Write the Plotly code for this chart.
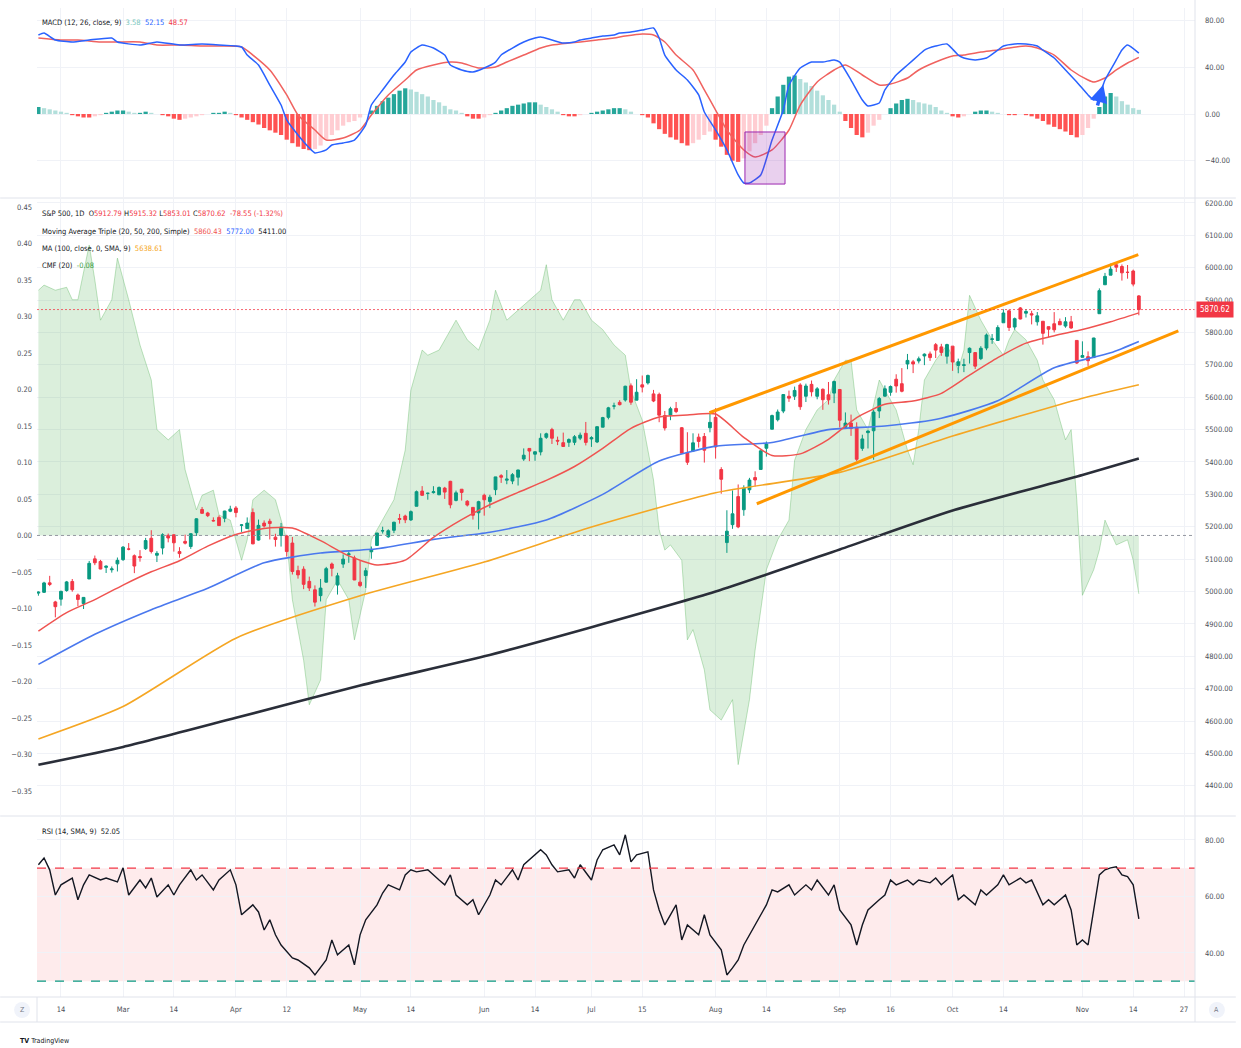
import plotly.graph_objects as go

# ---------------- DATA ----------------
open_ = [
    4995.2, 4997.6, 5026.8, 4967.9, 4976.4, 5003.1, 5031.1, 4989.3, 4963.0, 5038.8, 5100.9, 5093.0, 5074.6, 5067.2, 5085.4,
    5098.5, 5131.0, 5110.5, 5108.0, 5132.4, 5164.5, 5112.0, 5134.3, 5173.5, 5175.1, 5123.3, 5154.8, 5139.1, 5181.7, 5253.4, 5242.5, 5219.5, 5228.9, 5226.3, 5248.0,
    5258.0, 5204.3, 5194.4, 5244.1, 5158.9, 5211.4, 5217.0, 5167.9, 5172.9, 5171.5, 5149.7, 5064.6, 5069.0, 5031.5, 5005.4, 4987.3, 5028.9, 5084.9, 5019.9, 5084.7, 5114.1, 5103.8,
    5029.0, 5049.3, 5122.8, 5142.4, 5187.2, 5169.0, 5189.0, 5225.5, 5233.1, 5221.1, 5263.3, 5310.1, 5303.1, 5305.4, 5298.7, 5319.3, 5340.3, 5281.4, 5315.9, 5278.7, 5259.8, 5243.2,
    5297.2, 5278.2, 5314.5, 5357.8, 5343.8, 5341.2, 5353.0, 5409.1, 5441.9, 5424.1, 5431.1, 5476.2, 5500.0, 5466.8, 5459.6, 5460.7, 5460.7, 5473.6, 5488.5,
    5471.1, 5461.8, 5507.4, 5537.9, 5572.8, 5584.2, 5591.3, 5635.2, 5590.8, 5638.2, 5644.1, 5610.2, 5608.6, 5543.4, 5544.8, 5565.3, 5505.8, 5428.7, 5433.7, 5476.6, 5478.7, 5505.6,
    5537.8, 5376.6, 5151.1, 5206.4, 5293.1, 5252.6, 5314.1, 5351.9, 5377.0, 5442.4, 5501.1, 5530.5, 5557.2, 5602.9, 5603.1, 5637.8, 5603.0, 5639.7, 5602.9, 5624.5, 5607.3, 5612.7,
    5623.9, 5506.7, 5520.1, 5507.3, 5442.1, 5490.5, 5496.4, 5557.5, 5603.3, 5615.2, 5655.5, 5641.7, 5702.6, 5709.2, 5711.9, 5727.4, 5733.7, 5762.2, 5755.4, 5726.5,
    5757.7, 5698.2, 5698.2, 5737.8, 5737.8, 5719.1, 5751.8, 5778.4, 5775.1, 5829.8, 5866.7, 5816.6, 5875.6, 5859.4, 5857.8, 5832.7, 5834.5, 5817.8, 5826.8, 5833.9, 5819.7, 5832.7, 5775.3,
    5723.2, 5725.2, 5722.4, 5857.8, 5947.2, 5976.8, 6008.9, 6003.6, 5985.8, 5989.6, 5912.79,
]
high = [
    5000.3, 5030.1, 5048.4, 4971.3, 5002.5, 5032.7, 5038.7, 4993.7, 4983.2, 5094.4, 5111.1, 5097.7, 5080.7, 5077.4, 5105.0,
    5140.3, 5149.7, 5114.5, 5127.9, 5165.6, 5189.3, 5124.7, 5179.9, 5179.1, 5176.9, 5136.9, 5175.6, 5180.3, 5226.2, 5261.1, 5246.1, 5229.1, 5235.2, 5249.3, 5264.9,
    5263.9, 5208.3, 5228.8, 5256.6, 5222.2, 5219.6, 5224.8, 5178.4, 5211.8, 5175.0, 5168.4, 5079.8, 5078.0, 5046.0, 5019.0, 5038.8, 5076.1, 5089.5, 5057.8, 5114.6, 5123.5, 5110.8,
    5096.1, 5073.2, 5139.1, 5181.0, 5200.2, 5192.0, 5215.3, 5239.7, 5237.3, 5250.4, 5311.8, 5325.5, 5305.4, 5325.3, 5324.3, 5323.2, 5341.9, 5311.7, 5315.9, 5282.3, 5260.2, 5280.3,
    5302.1, 5298.8, 5354.2, 5362.4, 5375.1, 5365.8, 5376.0, 5441.9, 5441.9, 5432.4, 5488.5, 5490.4, 5505.5, 5478.3, 5490.7, 5472.9, 5483.1, 5490.8, 5523.6,
    5479.6, 5509.7, 5539.3, 5570.3, 5583.1, 5590.8, 5635.4, 5642.5, 5655.6, 5666.9, 5669.7, 5622.5, 5614.1, 5557.5, 5570.4, 5585.3, 5508.0, 5491.9, 5488.5, 5487.7, 5489.5, 5551.5,
    5566.2, 5383.9, 5250.9, 5312.3, 5330.6, 5328.0, 5351.0, 5371.2, 5436.5, 5463.2, 5546.2, 5562.0, 5608.3, 5620.5, 5632.7, 5643.2, 5641.8, 5651.6, 5631.2, 5627.0, 5647.0, 5651.4,
    5623.9, 5553.0, 5546.3, 5522.5, 5484.2, 5497.9, 5560.4, 5600.7, 5636.3, 5636.3, 5670.8, 5689.8, 5733.6, 5715.1, 5725.4, 5735.3, 5741.0, 5767.4, 5764.8, 5765.1,
    5757.7, 5719.1, 5718.8, 5753.7, 5739.3, 5757.6, 5796.8, 5795.0, 5822.1, 5871.4, 5870.4, 5846.0, 5878.5, 5872.2, 5866.9, 5863.0, 5834.9, 5817.8, 5862.8, 5842.9, 5847.2, 5850.9, 5775.3,
    5772.5, 5741.4, 5783.4, 5936.1, 5983.8, 6012.5, 6017.3, 6009.9, 6008.2, 5993.9, 5915.32,
]
low = [
    4987.1, 4995.5, 5016.7, 4920.3, 4956.4, 4999.4, 4999.5, 4955.0, 4946.0, 5038.8, 5081.5, 5068.9, 5057.3, 5058.4, 5061.9,
    5094.5, 5127.2, 5056.8, 5092.2, 5128.2, 5117.5, 5091.1, 5114.5, 5151.9, 5123.3, 5104.4, 5145.5, 5131.6, 5171.6, 5240.7, 5229.9, 5216.1, 5203.4, 5213.9, 5245.0,
    5229.2, 5184.1, 5194.4, 5146.1, 5157.2, 5197.4, 5160.8, 5138.7, 5138.8, 5107.9, 5052.5, 5039.8, 5007.3, 5001.6, 4953.6, 4969.4, 5028.0, 5047.0, 4990.6, 5073.1, 5088.7, 5035.3,
    5013.5, 5011.1, 5101.2, 5142.4, 5179.0, 5165.9, 5180.4, 5209.7, 5211.2, 5218.0, 5263.3, 5296.2, 5283.6, 5302.4, 5297.9, 5286.0, 5257.0, 5278.4, 5280.9, 5262.7, 5222.1, 5191.7,
    5234.3, 5257.6, 5297.6, 5335.4, 5331.3, 5331.5, 5327.3, 5403.4, 5402.5, 5403.8, 5420.4, 5471.3, 5455.6, 5452.0, 5446.6, 5446.6, 5451.9, 5467.5, 5451.1,
    5446.5, 5458.4, 5507.4, 5531.6, 5562.5, 5574.6, 5586.4, 5576.5, 5590.4, 5614.8, 5639.0, 5584.8, 5522.8, 5497.0, 5529.0, 5550.9, 5426.6, 5390.9, 5430.7, 5444.4, 5398.2, 5491.6,
    5410.4, 5302.0, 5119.3, 5193.6, 5195.5, 5233.9, 5303.9, 5324.4, 5377.0, 5416.6, 5501.1, 5525.2, 5550.7, 5585.5, 5591.6, 5561.0, 5585.2, 5602.3, 5593.5, 5561.0, 5577.2, 5581.8,
    5506.5, 5503.7, 5480.6, 5402.6, 5434.5, 5441.7, 5407.0, 5535.5, 5601.7, 5604.5, 5614.1, 5615.1, 5686.4, 5674.5, 5704.2, 5699.0, 5712.1, 5721.0, 5727.7, 5703.5,
    5681.3, 5674.0, 5677.4, 5703.9, 5686.9, 5714.6, 5745.0, 5764.8, 5775.1, 5829.8, 5804.5, 5808.3, 5840.3, 5846.1, 5824.8, 5821.2, 5762.4, 5784.9, 5800.0, 5823.1, 5814.5, 5811.3, 5702.9,
    5723.2, 5696.5, 5722.1, 5857.8, 5947.2, 5976.8, 5986.7, 5960.1, 5965.9, 5942.3, 5853.01,
]
close = [
    4997.9, 5026.6, 5021.8, 4953.2, 5000.6, 5029.7, 5005.6, 4975.5, 4981.8, 5087.0, 5088.8, 5069.5, 5078.2, 5069.8, 5096.3,
    5137.1, 5131.0, 5078.7, 5104.8, 5157.4, 5123.7, 5117.9, 5175.3, 5165.3, 5150.5, 5117.1, 5149.4, 5178.5, 5224.6, 5241.5, 5234.2, 5218.2, 5203.6, 5248.5, 5254.4,
    5243.8, 5205.8, 5211.5, 5147.2, 5204.3, 5202.4, 5209.9, 5160.6, 5199.1, 5123.4, 5061.8, 5051.4, 5022.2, 5011.1, 4967.2, 5010.6, 5070.6, 5071.6, 5048.4, 5100.0, 5116.2, 5035.7,
    5018.4, 5064.2, 5127.8, 5180.7, 5187.7, 5187.7, 5214.1, 5222.7, 5221.4, 5246.7, 5308.2, 5297.1, 5303.3, 5308.1, 5321.4, 5307.0, 5267.8, 5304.7, 5306.0, 5267.0, 5235.5, 5277.5,
    5283.4, 5291.3, 5354.0, 5353.0, 5347.0, 5360.8, 5375.3, 5421.0, 5433.7, 5431.6, 5473.2, 5487.0, 5473.2, 5464.6, 5447.9, 5469.3, 5477.9, 5482.9, 5460.5,
    5475.1, 5509.0, 5537.0, 5567.2, 5572.9, 5577.0, 5633.9, 5584.5, 5615.4, 5631.2, 5667.2, 5588.3, 5544.6, 5505.0, 5564.4, 5555.7, 5427.1, 5399.2, 5459.1, 5463.5, 5436.4, 5522.3,
    5446.7, 5346.6, 5186.3, 5240.0, 5199.5, 5319.3, 5344.2, 5344.4, 5434.4, 5455.2, 5543.2, 5554.3, 5608.3, 5597.1, 5620.9, 5570.6, 5634.6, 5616.8, 5625.8, 5592.2, 5592.0, 5648.4,
    5528.9, 5520.1, 5503.4, 5408.4, 5471.1, 5495.5, 5554.1, 5595.8, 5626.0, 5633.1, 5634.6, 5618.3, 5713.6, 5702.6, 5718.6, 5732.9, 5722.3, 5745.4, 5738.2, 5762.5,
    5708.8, 5709.5, 5699.9, 5751.1, 5695.9, 5751.1, 5792.0, 5780.1, 5815.0, 5859.9, 5815.3, 5842.5, 5841.5, 5864.7, 5854.0, 5851.2, 5797.4, 5809.9, 5808.1, 5823.5, 5832.9, 5813.7, 5705.5,
    5728.8, 5712.7, 5782.8, 5929.0, 5973.1, 5995.5, 6001.4, 5984.0, 5985.4, 5949.2, 5870.62,
]
prev_close = 5949.17

# x-axis tick labels (bar index of each label)
tick_idx = [4, 15, 24, 35, 44, 57, 66, 79, 88, 98, 107, 120, 129, 142, 151, 162, 171, 185, 194, 203]
tick_text = ["14", "Mar", "14", "Apr", "12", "May", "14", "Jun", "14", "Jul", "15",
             "Aug", "14", "Sep", "16", "Oct", "14", "Nov", "14", "27"]

# moving averages (read at sample bars)
ma20_idx = list(range(0, 196, 5))
ma20 = [4878, 4935, 4975, 5020, 5061, 5095, 5140, 5176, 5195, 5196, 5157, 5110, 5082, 5097, 5167, 5222,
        5268, 5306, 5343, 5386, 5442, 5504, 5539, 5545, 5548, 5476, 5420, 5425, 5470, 5537, 5578, 5588,
        5612, 5668, 5722, 5767, 5790, 5809, 5833, 5860.43]
ma50_idx = [0, 10, 20, 30, 40, 50, 60, 70, 80, 90, 100, 110, 120, 130, 140, 150, 160, 170, 180, 190, 195]
ma50 = [4775, 4868, 4944, 5010, 5089, 5119, 5132, 5161, 5183, 5221, 5300, 5403, 5449, 5460, 5500, 5511,
        5535, 5589, 5691, 5737, 5772.00]
ma100_idx = [0, 15, 35, 57, 79, 98, 120, 142, 162, 185, 195]
ma100 = [4545, 4645, 4856, 4987, 5091, 5199, 5305, 5368, 5480, 5597, 5638.61]
ma200_idx = [0, 15, 35, 57, 79, 98, 120, 142, 162, 185, 195]
ma200 = [4465, 4520, 4610, 4710, 4800, 4890, 5000, 5130, 5250, 5360, 5411.00]

# Chaikin money flow (20)
cmf_idx = [0, 1, 3, 5, 6, 7, 9, 10, 11, 13, 14, 16, 18, 20, 21, 23, 25, 26, 28, 29, 31, 32, 34, 36, 37, 38,
           40, 42, 44, 45, 47, 48, 50, 51, 53, 55, 56, 58, 59, 61, 63, 65, 66, 68, 69, 71, 73, 74, 76, 78,
           80, 81, 83, 85, 87, 89, 90, 91, 93, 95, 96, 98, 100, 102, 104, 105, 107, 109, 110, 111, 112, 114,
           115, 116, 118, 119, 121, 123, 124, 126, 127, 129, 131, 133, 134, 136, 138, 140, 141, 143, 144, 145,
           147, 149, 150, 152, 154, 155, 156, 157, 159, 161, 163, 164, 165, 167, 169, 171, 172, 173, 175, 177,
           178, 180, 181, 182, 183, 184, 185, 187, 188, 189, 191, 193, 194, 195]
cmf = [0.336, 0.343, 0.336, 0.340, 0.323, 0.323, 0.398, 0.350, 0.295, 0.323, 0.380, 0.323, 0.261, 0.213,
       0.145, 0.131, 0.145, 0.090, 0.035, 0.055, 0.062, 0.028, 0.021, -0.034, -0.006, 0.049, 0.062, 0.049,
       -0.006, -0.088, -0.171, -0.232, -0.198, -0.088, -0.061, -0.088, -0.143, -0.075, -0.006, 0.021, 0.049,
       0.117, 0.199, 0.254, 0.247, 0.254, 0.282, 0.295, 0.268, 0.254, 0.295, 0.336, 0.295, 0.309, 0.323,
       0.336, 0.371, 0.323, 0.295, 0.323, 0.323, 0.295, 0.282, 0.261, 0.247, 0.199, 0.158, 0.076, 0.008,
       -0.020, -0.013, -0.034, -0.143, -0.129, -0.184, -0.239, -0.253, -0.225, -0.314, -0.225, -0.157,
       -0.047, -0.006, 0.021, 0.103, 0.145, 0.172, 0.186, 0.213, 0.240, 0.240, 0.172, 0.145, 0.213, 0.199,
       0.172, 0.117, 0.097, 0.145, 0.213, 0.240, 0.261, 0.227, 0.254, 0.329, 0.295, 0.268, 0.247, 0.268,
       0.282, 0.268, 0.240, 0.213, 0.186, 0.158, 0.131, 0.145, 0.049, -0.082, -0.047, -0.020, 0.021, -0.013,
       -0.006, -0.034, -0.08]

# MACD (12, 26, 9)
macd_idx = [0, 1, 3, 6, 9, 13, 14, 18, 21, 25, 29, 32, 36, 37, 39, 41, 43, 44, 46, 48, 49, 51, 52, 54, 56,
            58, 59, 61, 63, 65, 66, 68, 70, 72, 73, 75, 77, 79, 81, 82, 84, 86, 88, 89, 91, 93, 95, 96, 98,
            100, 102, 103, 105, 107, 109, 110, 111, 113, 115, 117, 118, 120, 122, 124, 125, 126, 128, 130,
            132, 133, 135, 137, 139, 141, 142, 144, 146, 147, 149, 150, 152, 154, 156, 157, 159, 161, 163,
            164, 166, 168, 170, 171, 173, 175, 177, 178, 180, 182, 184, 186, 187, 188, 189, 191, 192, 193, 195]
macd = [67.7, 69.4, 63.4, 61.7, 63.4, 65.1, 61.7, 59.1, 61.7, 59.1, 60.0, 59.1, 57.4, 50.5, 42.0, 24.8, 7.7,
        -5.1, -18.0, -29.1, -33.4, -30.8, -26.6, -24.8, -22.3, -9.4, 7.7, 20.6, 33.4, 44.5, 53.1, 59.1, 56.5,
        50.5, 42.0, 37.7, 36.0, 39.4, 44.5, 50.5, 56.5, 61.7, 65.1, 66.0, 63.4, 60.8, 61.7, 63.4, 65.1, 66.8,
        67.7, 69.4, 70.2, 71.9, 73.7, 65.1, 50.5, 37.7, 29.1, 16.3, 1.7, -13.7, -30.8, -52.2, -59.1, -59.1,
        -52.2, -22.3, 3.4, 24.8, 39.4, 44.5, 44.5, 46.3, 44.5, 29.1, 12.0, 6.9, 9.4, 20.6, 33.4, 42.0, 50.5,
        54.8, 58.2, 60.0, 50.5, 48.0, 46.3, 48.0, 54.8, 58.2, 60.0, 60.0, 58.2, 54.8, 48.0, 37.7, 27.4, 16.3,
        12.0, 16.3, 29.1, 46.3, 54.8, 59.1, 52.15]
signal_idx = [0, 4, 7, 11, 14, 18, 21, 25, 29, 32, 36, 38, 41, 44, 46, 49, 51, 54, 57, 59, 62, 65, 67, 70,
              73, 75, 78, 81, 83, 86, 89, 91, 94, 96, 99, 102, 104, 107, 109, 111, 113, 116, 118, 120, 122,
              125, 127, 130, 133, 135, 138, 141, 143, 146, 149, 151, 154, 156, 159, 162, 164, 167, 170, 172,
              175, 177, 180, 183, 186, 187, 189, 191, 193, 195]
signal = [65.1, 63.4, 63.4, 61.7, 61.7, 61.7, 59.1, 59.1, 58.2, 58.2, 57.4, 50.5, 37.7, 16.3, -0.9, -13.7,
          -22.3, -20.6, -13.7, -0.9, 16.3, 29.1, 37.7, 42.0, 44.5, 43.7, 39.4, 40.3, 44.5, 50.5, 56.5, 59.1,
          60.8, 61.7, 63.4, 65.1, 66.8, 68.5, 67.7, 61.7, 50.5, 37.7, 20.6, 3.4, -13.7, -30.8, -36.8, -30.8,
          -13.7, 7.7, 27.4, 37.7, 42.0, 33.4, 24.8, 25.7, 30.8, 37.7, 44.5, 49.7, 50.5, 53.1, 54.8, 56.5,
          58.2, 56.5, 50.5, 37.7, 29.1, 27.4, 30.8, 37.7, 43.7, 48.57]
hist = [6, 5, 4, 3, 2, 1, -1, -2, -3, -3, -2, -1, 1, 2, 3, 3, 2, 1, 1, 2, 1, 0, -1, -2, -4,
        -5, -4, -3, -2, -1, 0, 1, 1, 2, 1, -1, -3, -5, -7, -9, -12, -14, -16, -18, -22,
        -25, -28, -30, -31, -30, -27, -22, -18, -14, -10, -7, -6, -3, 0, 3, 7, 11, 14, 17, 20,
        22, 21, 19, 17, 15, 12, 10, 7, 4, 3, 1, -2, -4, -4, -3, -1, 1, 3, 5, 7,
        8, 9, 10, 10, 8, 6, 4, 2, -1, -2, -2, -1, 0, 1, 2, 3, 4, 5, 5, 4,
        2, 0, -1, -3, -8, -13, -17, -20, -22, -25, -27, -25, -22, -18, -15, -22, -28, -35, -40, -41,
        -38, -32, -25, -18, -10, 5, 15, 25, 32, 33, 30, 27, 24, 20, 16, 12, 8, 2, -6, -12,
        -18, -20, -16, -10, -5, 0, 5, 9, 12, 13, 12, 10, 9, 8, 6, 3, 1, -2, -3, -2,
        0, 2, 3, 3, 2, 1, 0, -1, -1, 0, -1, -2, -4, -6, -9, -11, -13, -15, -18, -20,
        -18, -12, -4, 6, 15, 18, 15, 11, 8, 5, 3.58]

# RSI (14)
rsi_idx = [0, 1, 2, 3, 4, 6, 7, 8, 9, 11, 12, 14, 15, 16, 18, 19, 20, 21, 23, 24, 25, 27, 28, 29, 31, 32,
           34, 35, 36, 38, 39, 40, 41, 42, 43, 45, 46, 48, 49, 51, 52, 53, 55, 56, 57, 58, 60, 61, 62, 64,
           65, 66, 67, 69, 71, 72, 73, 74, 76, 77, 78, 80, 81, 82, 84, 85, 86, 88, 89, 90, 91, 92, 94, 95,
           96, 98, 99, 100, 102, 103, 104, 105, 106, 108, 109, 110, 111, 113, 114, 115, 117, 118, 119, 121,
           122, 123, 124, 125, 126, 127, 129, 130, 131, 133, 134, 136, 137, 138, 140, 141, 142, 144, 145,
           146, 147, 149, 150, 151, 152, 154, 155, 156, 158, 159, 160, 162, 163, 164, 166, 167, 168, 170,
           171, 172, 174, 175, 176, 178, 179, 180, 182, 183, 184, 185, 186, 187, 188, 189, 190, 191, 192,
           193, 194, 195]
rsi = [71.2, 73.6, 69.4, 60.5, 64.1, 66.5, 58.8, 64.1, 67.6, 65.8, 66.5, 65.1, 70.1, 60.5, 65.8, 63.0, 66.5,
       59.8, 64.1, 60.5, 64.1, 69.4, 65.8, 67.6, 62.3, 65.8, 69.4, 64.1, 53.5, 57.0, 54.5, 48.1, 51.7, 46.4,
       42.8, 38.2, 37.5, 34.7, 32.2, 37.5, 44.6, 39.3, 42.8, 35.8, 46.4, 51.7, 57.0, 61.2, 64.1, 62.3, 67.6,
       69.4, 68.7, 69.4, 65.8, 64.1, 67.6, 60.5, 57.0, 58.8, 53.5, 60.5, 65.8, 64.1, 69.4, 65.8, 71.2, 74.7,
       76.5, 74.7, 71.2, 68.7, 69.4, 66.5, 71.2, 65.8, 72.9, 76.5, 78.2, 74.7, 81.8, 72.2, 74.7, 75.8, 62.3,
       55.2, 49.9, 57.0, 44.6, 49.9, 46.4, 53.5, 46.4, 41.1, 32.2, 34.7, 37.5, 42.8, 46.4, 49.9, 57.0, 62.3,
       61.6, 64.1, 60.5, 64.1, 62.3, 65.8, 60.5, 64.1, 55.2, 49.9, 42.8, 49.9, 55.2, 58.8, 60.5, 65.8, 64.1,
       65.8, 64.1, 65.8, 64.8, 66.5, 64.1, 67.6, 58.8, 60.5, 57.0, 62.3, 60.5, 64.1, 67.6, 64.1, 66.5, 64.8,
       65.8, 57.0, 58.8, 57.0, 60.5, 55.2, 42.8, 44.6, 42.8, 55.2, 67.6, 69.4, 70.1, 70.5, 67.6, 67.0, 64.1,
       52.05]

# drawings (bar index, value)
upper_trend = ([118.9, 194.9], [5552, 6040])
lower_trend = ([127.3, 202.0], [5271, 5805])
macd_box = (125.2, 132.3, -60.0, -15.4)
macd_arrow = (187.6, 6.0, 188.7, 25.0)
cmf_last = -0.08

# ---------------- STYLE ----------------
FONT = "Liberation Sans Narrow, DejaVu Sans Condensed, Arial Narrow, sans-serif"
FS = 7.5
TXT = "#131722"
AXC = "#4c4f58"
GRID = "#f0f2f7"
UP = "#089981"
DN = "#f23645"
W, H = 1241, 1048
L, R, T, B = 37, 41, 8, 51


def px_x(px):
    return (px - L) / (W - L - R)


def px_y(py):
    return (H - B - py) / (H - T - B)


XR = [-0.25, 204.95]
bars = list(range(len(close)))

fig = go.Figure()

# CMF area (left axis, behind price)
fig.add_trace(go.Scatter(x=cmf_idx, y=cmf, xaxis="x2", yaxis="y2", mode="lines",
                         line=dict(color="rgba(76,175,80,0.35)", width=1),
                         fill="tozeroy", fillcolor="rgba(76,175,80,0.20)", hoverinfo="skip"))

# moving averages
for xs, ys, col, wd in [(ma200_idx, ma200, "#2a2e39", 2.6), (ma100_idx, ma100, "#f5a623", 1.6),
                        (ma50_idx, ma50, "#4a78ee", 1.6), (ma20_idx, ma20, "#ef5350", 1.5)]:
    fig.add_trace(go.Scatter(x=xs, y=ys, xaxis="x2", yaxis="y3", mode="lines",
                             line=dict(color=col, width=wd, shape="spline", smoothing=0.6),
                             hoverinfo="skip"))

# candles
fig.add_trace(go.Candlestick(x=bars, open=open_, high=high, low=low, close=close,
                             xaxis="x2", yaxis="y3", whiskerwidth=0,
                             increasing=dict(line=dict(color=UP, width=1), fillcolor=UP),
                             decreasing=dict(line=dict(color=DN, width=1), fillcolor=DN)))

# trend lines
for xs, ys in [upper_trend, lower_trend]:
    fig.add_trace(go.Scatter(x=xs, y=ys, xaxis="x2", yaxis="y3", mode="lines",
                             line=dict(color="#ff9800", width=3), hoverinfo="skip"))

# last price line (dotted, red)
fig.add_trace(go.Scatter(x=[XR[0], XR[1]], y=[close[-1], close[-1]], xaxis="x2", yaxis="y3", mode="lines",
                         line=dict(color="rgba(242,54,69,0.75)", width=1, dash="2px,2px"), hoverinfo="skip"))

# MACD histogram
hcols = []
for i, h in enumerate(hist):
    p = hist[i - 1] if i > 0 else h
    if h >= 0:
        hcols.append("#26a69a" if h >= p else "#b2dfdb")
    else:
        hcols.append("#ff5252" if h <= p else "#ffcdd2")
fig.add_trace(go.Bar(x=bars, y=hist, xaxis="x3", yaxis="y4", marker=dict(color=hcols, line=dict(width=0)),
                     width=0.75, hoverinfo="skip"))
fig.add_trace(go.Scatter(x=signal_idx, y=signal, xaxis="x3", yaxis="y4", mode="lines",
                         line=dict(color="#f0625f", width=1.5, shape="spline", smoothing=0.6), hoverinfo="skip"))
fig.add_trace(go.Scatter(x=macd_idx, y=macd, xaxis="x3", yaxis="y4", mode="lines",
                         line=dict(color="#2962ff", width=1.5, shape="spline", smoothing=0.5), hoverinfo="skip"))

# RSI
fig.add_trace(go.Scatter(x=rsi_idx, y=rsi, xaxis="x", yaxis="y", mode="lines",
                         line=dict(color="#131722", width=1.4), hoverinfo="skip"))

shapes = []
# RSI band and levels
shapes.append(dict(type="rect", xref="paper", yref="y", x0=0, x1=1, y0=30, y1=70,
                   fillcolor="rgba(242,54,69,0.10)", line=dict(width=0), layer="below"))
shapes.append(dict(type="line", xref="paper", yref="y", x0=0, x1=1, y0=70, y1=70,
                   line=dict(color="#f23645", width=1.2, dash="dash")))
shapes.append(dict(type="line", xref="paper", yref="y", x0=0, x1=1, y0=30, y1=30,
                   line=dict(color="#089981", width=1.2, dash="dash")))
# CMF zero line
shapes.append(dict(type="line", xref="paper", yref="y2", x0=0, x1=1, y0=0, y1=0,
                   line=dict(color="#9598a1", width=1, dash="dot")))
# MACD purple box
shapes.append(dict(type="rect", xref="x3", yref="y4", x0=macd_box[0], x1=macd_box[1],
                   y0=macd_box[2], y1=macd_box[3], fillcolor="rgba(156,39,176,0.22)",
                   line=dict(color="#9c27b0", width=1)))
# pane separators / borders
for py in [198, 816, 997]:
    shapes.append(dict(type="line", xref="paper", yref="paper", x0=px_x(0), x1=px_x(W), y0=px_y(py), y1=px_y(py),
                       line=dict(color="#e0e3eb", width=1)))
shapes.append(dict(type="line", xref="paper", yref="paper", x0=1, x1=1, y0=px_y(1022), y1=px_y(0),
                   line=dict(color="#e0e3eb", width=1)))
shapes.append(dict(type="line", xref="paper", yref="paper", x0=px_x(L), x1=px_x(L), y0=px_y(1022), y1=px_y(997),
                   line=dict(color="#e0e3eb", width=1)))
shapes.append(dict(type="line", xref="paper", yref="paper", x0=px_x(0), x1=px_x(W), y0=px_y(1022), y1=px_y(1022),
                   line=dict(color="#e0e3eb", width=1)))
# Z / A buttons
for cx in [22, 1222]:
    shapes.append(dict(type="circle", xref="paper", yref="paper", x0=px_x(cx - 8), x1=px_x(cx + 8),
                       y0=px_y(1018), y1=px_y(1002), fillcolor="#f0f3fa", line=dict(width=0)))

ann = []


def txt(px, py, text, size=FS, color=TXT, anchor="left"):
    ann.append(dict(xref="paper", yref="paper", x=px_x(px), y=px_y(py), text=text, showarrow=False,
                    xanchor=anchor, yanchor="middle", font=dict(size=size, color=color, family=FONT)))


def c(v, col):
    return f"<span style='color:{col}'>{v}</span>"


chg = close[-1] - prev_close
txt(40, 22, "MACD (12, 26, close, 9)  " + c(f"{hist[-1]:.2f}", "#7cc7bd") + "  " + c(f"{macd[-1]:.2f}", "#2962ff")
    + "  " + c(f"{signal[-1]:.2f}", "#f23645"))
txt(40, 214, "S&P 500, 1D  O" + c(f"{open_[-1]:.2f}", DN) + " H" + c(f"{high[-1]:.2f}", DN) + " L" +
    c(f"{low[-1]:.2f}", DN) + " C" + c(f"{close[-1]:.2f}", DN) + "  " +
    c(f"{chg:.2f} ({chg / prev_close * 100:.2f}%)", DN))
txt(40, 231, "Moving Average Triple (20, 50, 200, Simple)  " + c(f"{ma20[-1]:.2f}", "#ef5350") + "  " +
    c(f"{ma50[-1]:.2f}", "#2962ff") + "  " + c(f"{ma200[-1]:.2f}", TXT))
txt(40, 248, "MA (100, close, 0, SMA, 9)  " + c(f"{ma100[-1]:.2f}", "#f5a623"))
txt(40, 265, "CMF (20)  " + c(f"{cmf_last:.2f}", "#43a047"))
txt(40, 831, "RSI (14, SMA, 9)  " + f"{rsi[-1]:.2f}")
txt(22, 1010, "Z", size=7, color="#787b86", anchor="center")
txt(1222, 1010, "A", size=7, color="#787b86", anchor="center")
txt(18, 1041, "<b>TV</b> TradingView", size=7, color=TXT)

# last price tag
ann.append(dict(xref="paper", yref="y3", x=1.0, y=close[-1], text=f"{close[-1]:.2f}", showarrow=False,
                xanchor="left", yanchor="middle", xshift=1, bgcolor="#f23645", borderpad=3,
                font=dict(size=8, color="white", family=FONT)))
# blue arrow in MACD
ann.append(dict(xref="x3", yref="y4", axref="x3", ayref="y4", x=macd_arrow[2], y=macd_arrow[3],
                ax=macd_arrow[0], ay=macd_arrow[1], text="", showarrow=True, arrowhead=2, arrowsize=1,
                arrowwidth=3.5, arrowcolor="#2962ff"))

axis_common = dict(showline=False, zeroline=False, ticks="", showgrid=True, gridcolor=GRID,
                   tickfont=dict(size=FS, color=AXC, family=FONT))

fig.update_layout(
    width=W, height=H, margin=dict(l=L, r=R, t=T, b=B),
    paper_bgcolor="white", plot_bgcolor="white", showlegend=False,
    font=dict(family=FONT, size=FS, color=AXC),
    hovermode=False,
    xaxis=dict(domain=[0, 1], anchor="y", range=XR, tickvals=tick_idx, ticktext=tick_text,
               ticklabelstandoff=6, rangeslider=dict(visible=False), **axis_common),
    xaxis2=dict(domain=[0, 1], anchor="y2", range=XR, matches="x", tickvals=tick_idx, showticklabels=False,
                rangeslider=dict(visible=False), **axis_common),
    xaxis3=dict(domain=[0, 1], anchor="y4", range=XR, matches="x", tickvals=tick_idx, showticklabels=False,
                **axis_common),
    yaxis=dict(domain=[0, px_y(817)], anchor="x", range=[24.4, 88.1], side="right", tickvals=[40, 60, 80],
               tickformat=".2f", ticklabelstandoff=9, **axis_common),
    yaxis2=dict(domain=[px_y(815), px_y(199)], anchor="x2", range=[-0.383, 0.461], side="left",
                tick0=0, dtick=0.05, tickformat=".2f", ticklabelstandoff=4,
                **{**axis_common, "showgrid": False}),
    yaxis3=dict(overlaying="y2", anchor="x2", range=[4310, 6212], side="right", tick0=0, dtick=100,
                tickformat=".2f", ticklabelstandoff=9, **axis_common),
    yaxis4=dict(domain=[px_y(197), 1], anchor="x3", range=[-71.1, 90.8], side="right",
                tickvals=[-40, 0, 40, 80], tickformat=".2f", ticklabelstandoff=9, **axis_common),
    shapes=shapes, annotations=ann,
)

fig.write_html("out.html", config={"displayModeBar": False, "staticPlot": True},
               post_script="document.body.style.margin='0';document.body.style.padding='0';"
                           "document.documentElement.style.overflow='hidden';")
